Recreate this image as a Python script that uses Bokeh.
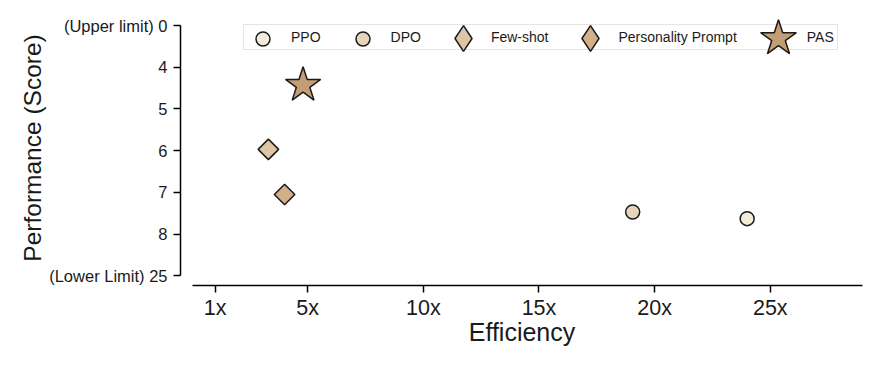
import math
from bokeh.plotting import figure
from bokeh.models import Range1d, FixedTicker, Legend, LegendItem
from bokeh.embed import file_html
from bokeh.resources import INLINE

# ---- data ----
methods = ["PPO", "DPO", "Few-shot", "Personality Prompt", "PAS"]
efficiency = [24.0, 19.05, 3.3, 4.0, 4.8]
score = [7.63, 7.47, 5.97, 7.05, 4.43]

x_ticks = [1, 5, 10, 15, 20, 25]
x_tick_labels = ["1x", "5x", "10x", "15x", "20x", "25x"]
y_ticks = [3, 4, 5, 6, 7, 8, 9]
y_tick_labels = ["(Upper limit) 0", "4", "5", "6", "7", "8", "(Lower Limit) 25"]

# ---- styles ----
colors = ["#F3ECD8", "#E6D5BB", "#DEC5A5", "#D2B089", "#C59D74"]
markers = ["circle", "circle", "square", "square", "star"]
legend_markers = ["circle", "circle", "diamond", "diamond", "star"]
sizes = [14, 14, 14.5, 14.5, 37]
angles = [0, 0, math.pi / 4, math.pi / 4, 0]
legend_box = [35, 35, 64, 64, 94]          # glyph box -> marker size = 0.4 * box
legend_cx = [82, 182, 283, 410, 598]       # px from frame left
LEGEND_CY = 247                            # px from frame bottom
FONT = "Liberation Sans"
TXT = "#1a1a1a"
EDGE = "#1a1a1a"

p = figure(width=883, height=368,
           x_range=Range1d(-0.5, 29.03), y_range=Range1d(9.233, 2.64),
           output_backend="svg", toolbar_location=None,
           min_border_left=180, min_border_right=20,
           min_border_top=10, min_border_bottom=83)
p.outline_line_color = None
p.xgrid.grid_line_color = None
p.ygrid.grid_line_color = None
p.background_fill_color = "white"
p.border_fill_color = "white"

rends = []
for i, m in enumerate(methods):
    r = p.scatter(x=[efficiency[i]], y=[score[i]], marker=markers[i],
                  size=sizes[i], angle=angles[i], fill_color=colors[i],
                  line_color=EDGE, line_width=1.5)
    rends.append(r)

# renderers used only to draw legend symbols (NaN position: not drawn in plot)
legend_rends = []
for i, m in enumerate(methods):
    if legend_markers[i] == markers[i]:
        legend_rends.append(rends[i])
    else:
        lr = p.scatter(x=[float("nan")], y=[float("nan")],
                       marker=legend_markers[i],
                       fill_color=colors[i], line_color=EDGE, line_width=1.5)
        legend_rends.append(lr)

dummy = p.scatter(x=efficiency[:1], y=score[:1], size=1,
                  fill_alpha=0, line_alpha=0)

# axes
for ax, ticks, labels in ((p.xaxis[0], x_ticks, x_tick_labels),
                          (p.yaxis[0], y_ticks, y_tick_labels)):
    ax.ticker = FixedTicker(ticks=ticks)
    ax.major_label_overrides = {t: l for t, l in zip(ticks, labels)}
    ax.minor_tick_line_color = None
    ax.major_tick_in = 0
    ax.major_tick_out = 7
    ax.axis_line_width = 1.5
    ax.major_tick_line_width = 1.5
    ax.axis_line_color = "black"
    ax.major_tick_line_color = "black"
    ax.major_label_text_font = FONT
    ax.major_label_text_color = TXT
    ax.axis_label_text_font = FONT
    ax.axis_label_text_color = TXT
    ax.axis_label_text_font_style = "normal"

p.xaxis.bounds = (0, 29)
p.yaxis.bounds = (3, 9)
p.xaxis.major_label_text_font_size = "21.5px"
p.yaxis.major_label_text_font_size = "16.5px"
p.xaxis.major_label_standoff = 3
p.yaxis.major_label_standoff = 6
p.xaxis.axis_label = "Efficiency"
p.yaxis.axis_label = "Performance (Score)"
p.xaxis.axis_label_text_font_size = "25px"
p.yaxis.axis_label_text_font_size = "24.5px"
p.xaxis.axis_label_standoff = -5
p.yaxis.axis_label_standoff = 0

# legend frame + labels
legA = Legend(items=[LegendItem(label=m, renderers=[dummy]) for m in methods],
              orientation="horizontal", location=(63, 235), margin=0,
              padding=3, glyph_width=32, glyph_height=18, label_standoff=12,
              spacing=26, label_height=10, label_width=0,
              label_text_font=FONT, label_text_font_size="14px",
              label_text_color=TXT,
              border_line_color="#cccccc", border_line_width=1,
              background_fill_color="white", background_fill_alpha=1)
p.add_layout(legA)

# legend symbols (one small legend each, to allow per-item symbol size)
for i, m in enumerate(methods):
    g = legend_box[i]
    lg = Legend(items=[LegendItem(label="", renderers=[legend_rends[i]])],
                orientation="horizontal",
                location=(legend_cx[i] - g / 2, LEGEND_CY - g / 2), margin=0,
                padding=0, glyph_width=g, glyph_height=g, label_standoff=0,
                spacing=0, label_height=0, label_width=0,
                label_text_font=FONT, label_text_font_size="1px",
                border_line_alpha=0, background_fill_alpha=0)
    p.add_layout(lg)

open("out.html", "w").write(file_html(p, INLINE))
